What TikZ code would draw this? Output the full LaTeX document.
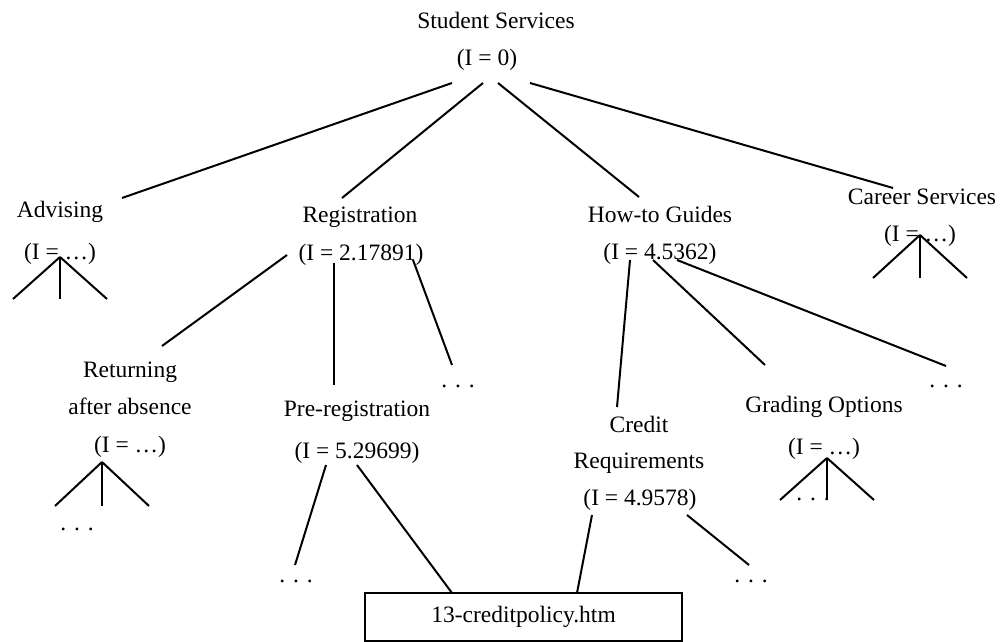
\documentclass[tikz,border=0pt]{standalone}
\usepackage{fontspec}
\setmainfont{Liberation Serif}
\usetikzlibrary{positioning}

\begin{document}
\begin{tikzpicture}[x=0.5pt, y=-0.5pt,
                    lbl/.style={inner sep=0pt, anchor=base, font=\fontsize{11.75}{14}\selectfont},
                    edge/.style={line width=1pt, black},
                    filebox/.style={draw, line width=1pt, inner sep=0pt, minimum width=158.5pt,
                                    minimum height=24pt, font=\fontsize{11.75}{14}\selectfont},
                   ]

\useasboundingbox (0,0) rectangle (1001,642);

% labels
\node[lbl] (ss)     at (496,29)  {Student Services};
\node[lbl] (ssI)    at (487,66)  {(I = 0)};
\node[lbl] (adv)    at (60,217)  {Advising};
\node[lbl] (advI)   at (60,259)  {(I = …)};
\node[lbl] (reg)    at (360,222) {Registration};
\node[lbl] (regI)   at (361,260) {(I = 2.17891)};
\node[lbl] (how)    at (660,222) {How-to Guides};
\node[lbl] (howI)   at (660,259) {(I = 4.5362)};
\node[lbl] (car)    at (922,204) {Career Services};
\node[lbl] (carI)   at (920,241) {(I = …)};
\node[lbl] (ret)    at (130,377) {Returning};
\node[lbl] (retb)   at (130,414) {after absence};
\node[lbl] (retI)   at (130,452) {(I = …)};
\node[lbl] (pre)    at (357,416) {Pre-registration};
\node[lbl] (preI)   at (357,458) {(I = 5.29699)};
\node[lbl] (cred)   at (639,432) {Credit};
\node[lbl] (credb)  at (639,468) {Requirements};
\node[lbl] (credI)  at (640,505) {(I = 4.9578)};
\node[lbl] (grad)   at (824,412) {Grading Options};
\node[lbl] (gradI)  at (824,454) {(I = …)};
\node[filebox] (file) at (523.5,617) {13-creditpolicy.htm};

% dots
\node[lbl] (regD)   at (458,387) {. . .};
\node[lbl] (howD)   at (946,387) {. . .};
\node[lbl] (retD)   at (77,530)  {. . .};
\node[lbl] (preD)   at (296,582) {. . .};
\node[lbl] (credD)  at (751,582) {. . .};
\node[lbl] (gradD)  at (813,500) {. . .};

% connector ends
\coordinate (ss1) at (452,83);   \coordinate (advT) at (122,198);
\coordinate (ss2) at (483,83);   \coordinate (regT) at (342,198);
\coordinate (ss3) at (498,83);   \coordinate (howT) at (639,197);
\coordinate (ss4) at (530,83);   \coordinate (carT) at (893,188);

\coordinate (reg1) at (287,255); \coordinate (retT)  at (162,346);
\coordinate (reg2) at (334,263); \coordinate (preT)  at (334,385);
\coordinate (reg3) at (413,260); \coordinate (regDT) at (452,365);

\coordinate (pre1) at (326,465); \coordinate (preDT) at (295,565);
\coordinate (pre2) at (357,465); \coordinate (fileA) at (452,593);

\coordinate (how1) at (630,260); \coordinate (credT) at (617,407);
\coordinate (how2) at (653,260); \coordinate (gradT) at (765,365);
\coordinate (how3) at (677,260); \coordinate (howDT) at (946,366);

\coordinate (cred1) at (592,515); \coordinate (fileB)  at (577,593);
\coordinate (cred2) at (687,515); \coordinate (credDT) at (749,565);

\draw[edge] (ss1) -- (advT);
\draw[edge] (ss2) -- (regT);
\draw[edge] (ss3) -- (howT);
\draw[edge] (ss4) -- (carT);

\draw[edge] (reg1) -- (retT);
\draw[edge] (reg2) -- (preT);
\draw[edge] (reg3) -- (regDT);

\draw[edge] (pre1) -- (preDT);
\draw[edge] (pre2) -- (fileA);

\draw[edge] (how1) -- (credT);
\draw[edge] (how2) -- (gradT);
\draw[edge] (how3) -- (howDT);

\draw[edge] (cred1) -- (fileB);
\draw[edge] (cred2) -- (credDT);

% small subtrees
\foreach \ax/\ay/\by in {60/257/299, 920/235/278, 102/462/506, 827/458/500}{
  \coordinate (apex) at (\ax,\ay);
  \foreach \dx in {-47,0,47}
    \draw[edge] (apex) -- ++(\dx,\by-\ay);
}

\end{tikzpicture}
\end{document}
